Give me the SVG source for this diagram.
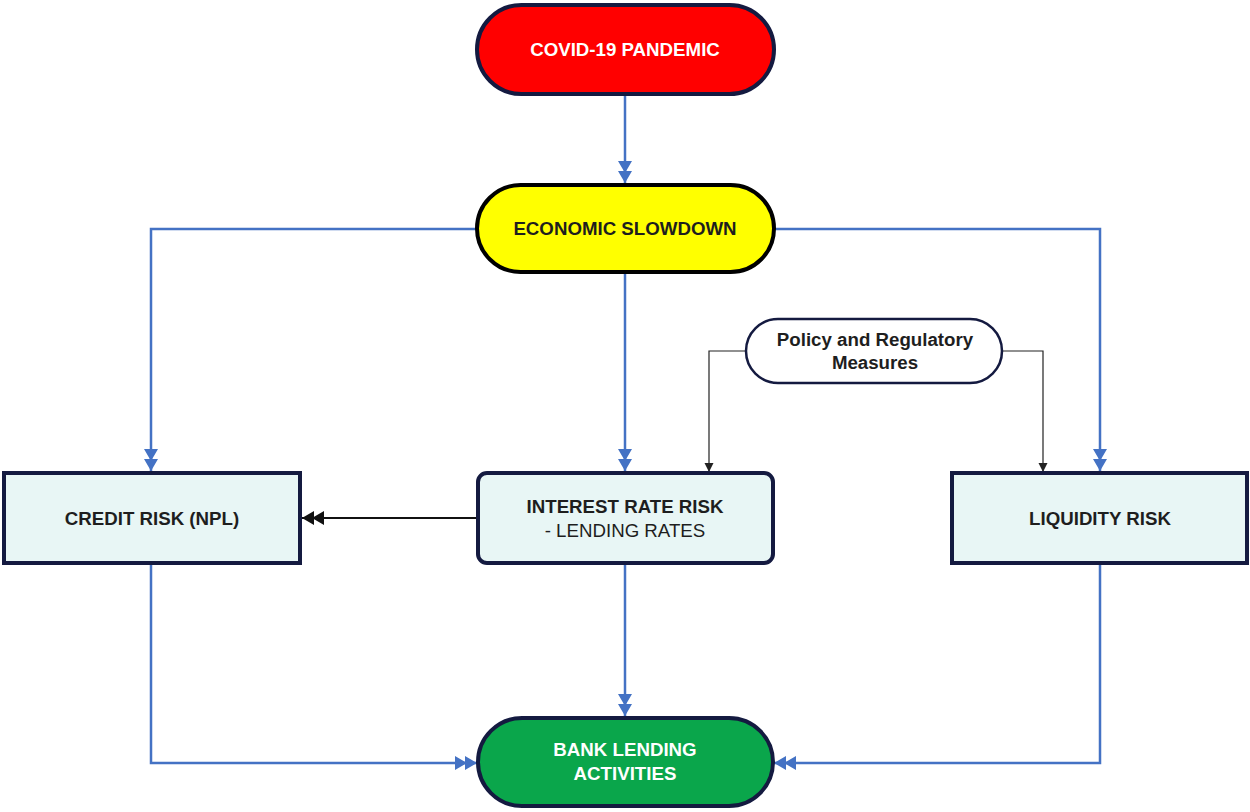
<svg xmlns="http://www.w3.org/2000/svg" width="1250" height="812" viewBox="0 0 1250 812">
<style>
.t{font-family:"Liberation Sans",Arial,sans-serif;font-size:18.7px;font-weight:bold;text-anchor:middle;dominant-baseline:central}
.w{fill:#ffffff}
.d{fill:#1e1e1e}
.n{font-weight:normal}
.box{fill:#e8f6f5;stroke:#141a40;stroke-width:4}
.blue{fill:none;stroke:#4472c4;stroke-width:2.5}
.blk{fill:none;stroke:#111111;stroke-width:2.2}
.thin{fill:none;stroke:#222222;stroke-width:1.2}
</style>
<defs>
<marker id="dblue" markerUnits="userSpaceOnUse" markerWidth="24" markerHeight="16" refX="22" refY="7" orient="auto">
<path d="M0,0 L12,7 L0,14 Z M10,0 L22,7 L10,14 Z" fill="#4472c4"/>
</marker>
<marker id="dblk" markerUnits="userSpaceOnUse" markerWidth="24" markerHeight="16" refX="22" refY="7" orient="auto">
<path d="M0,0 L12,7 L0,14 Z M10,0 L22,7 L10,14 Z" fill="#111111"/>
</marker>
<marker id="sblk" markerUnits="userSpaceOnUse" markerWidth="10" markerHeight="10" refX="9" refY="5" orient="auto">
<path d="M0,0.5 L9,5 L0,9.5 Z" fill="#222222"/>
</marker>
</defs>
<g id="connectors">
<path class="blue" d="M625,95 V183" marker-end="url(#dblue)"/>
<path class="blue" d="M476,229 H151 V471" marker-end="url(#dblue)"/>
<path class="blue" d="M775,229 H1100 V471" marker-end="url(#dblue)"/>
<path class="blue" d="M625,273 V471" marker-end="url(#dblue)"/>
<path class="thin" d="M745,351 H709 V472" marker-end="url(#sblk)"/>
<path class="thin" d="M1003,351 H1043 V472" marker-end="url(#sblk)"/>
<path class="blk" d="M477,518 H302" marker-end="url(#dblk)"/>
<path class="blue" d="M151,563 V763 H477" marker-end="url(#dblue)"/>
<path class="blue" d="M625,563 V716" marker-end="url(#dblue)"/>
<path class="blue" d="M1100,563 V763 H774" marker-end="url(#dblue)"/>
</g>
<g id="covid">
<rect x="477" y="5" width="297" height="89" rx="44.5" fill="#ff0000" stroke="#141a40" stroke-width="4"/>
<text class="t w" x="625" y="49">COVID-19 PANDEMIC</text>
</g>
<g id="slowdown">
<rect x="477" y="185" width="297" height="87" rx="43.5" fill="#ffff00" stroke="#000000" stroke-width="4"/>
<text class="t d" x="625" y="228">ECONOMIC SLOWDOWN</text>
</g>
<g id="policy">
<rect x="746" y="319" width="256" height="64" rx="32" fill="#ffffff" stroke="#141a40" stroke-width="2.5"/>
<text class="t d" x="875" y="339">Policy and Regulatory</text>
<text class="t d" x="875" y="362">Measures</text>
</g>
<g id="credit">
<rect class="box" x="4" y="473" width="296" height="90"/>
<text class="t d" x="152" y="518">CREDIT RISK (NPL)</text>
</g>
<g id="interest">
<rect class="box" x="478" y="473" width="295" height="90" rx="9"/>
<text class="t d" x="625" y="506">INTEREST RATE RISK</text>
<text class="t d n" x="625" y="530">- LENDING RATES</text>
</g>
<g id="liquidity">
<rect class="box" x="952" y="473" width="295" height="90"/>
<text class="t d" x="1100" y="518">LIQUIDITY RISK</text>
</g>
<g id="bank">
<rect x="478" y="718" width="295" height="88" rx="44" fill="#0aa64b" stroke="#141a40" stroke-width="4"/>
<text class="t w" x="625" y="749">BANK LENDING</text>
<text class="t w" x="625" y="773">ACTIVITIES</text>
</g>
</svg>
